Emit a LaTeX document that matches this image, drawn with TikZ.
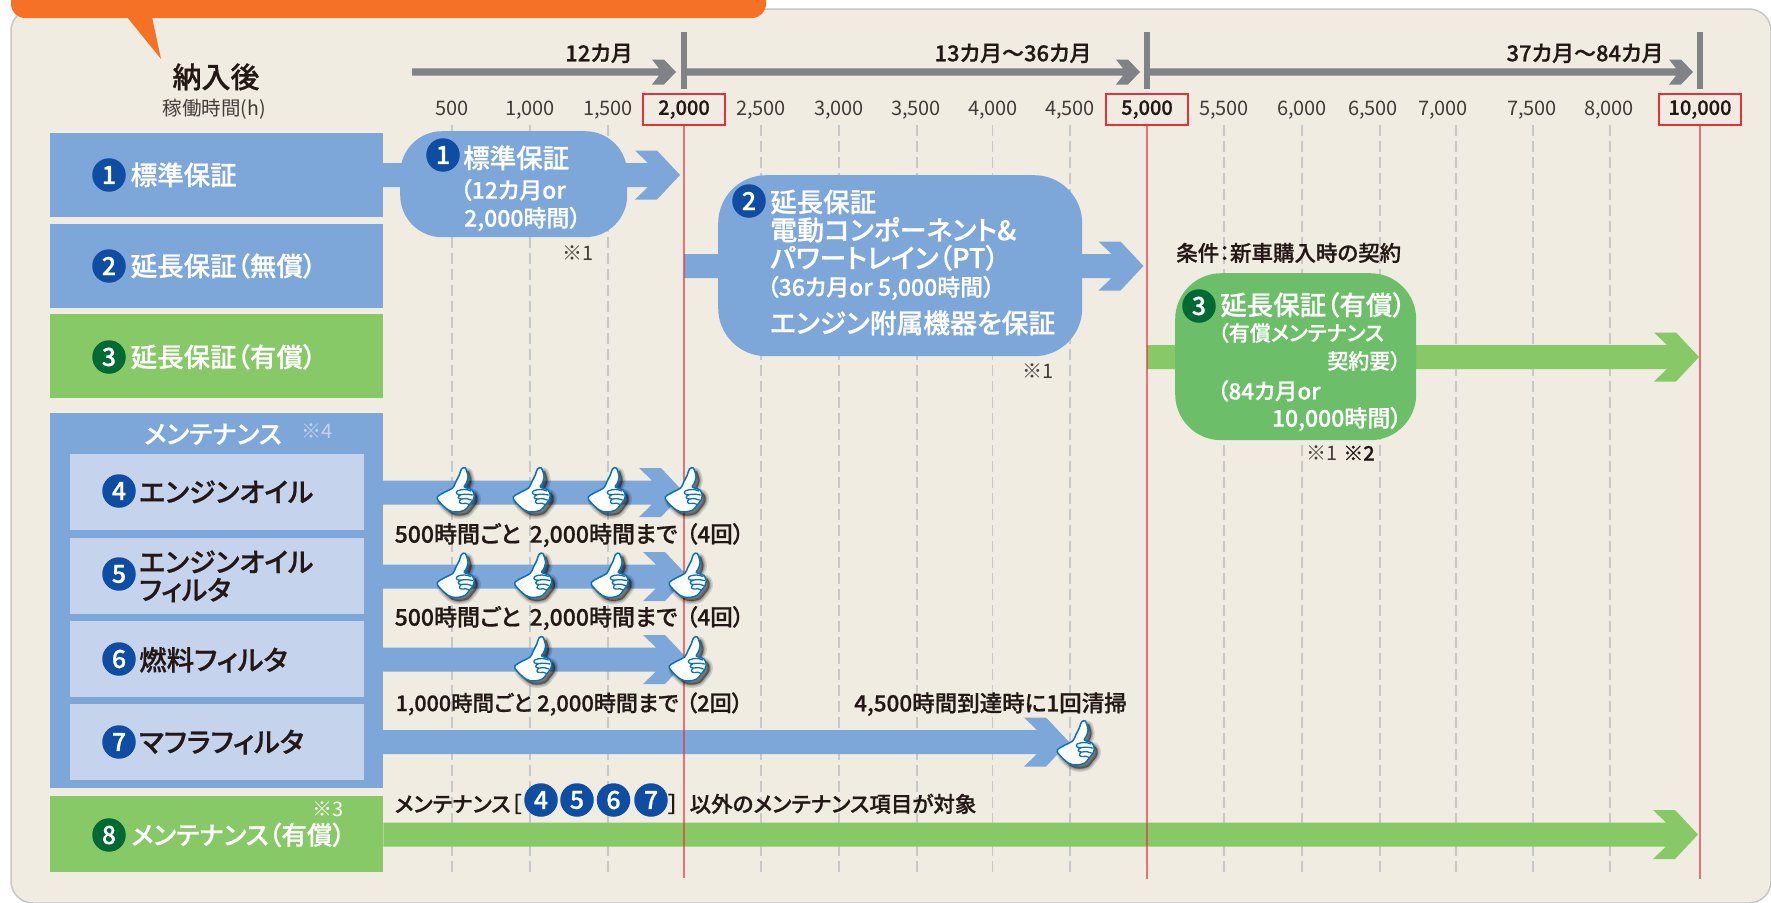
\documentclass[tikz,border=0pt]{standalone}
\usepackage{fontspec}
\usetikzlibrary{calc}
\newfontfamily\jp{Noto Sans CJK JP Medium}[RawFeature={+palt;embolden=0.7}]
\newfontfamily\jr{Noto Sans CJK JP}[RawFeature={+palt}]
\newcommand\fs[1]{\fontsize{#1}{#1}\selectfont}
\definecolor{panelbg}{HTML}{F0ECE2}
\definecolor{panelln}{HTML}{C4C6C8}
\definecolor{blu}{HTML}{7DA6D9}
\definecolor{grn}{HTML}{87C867}
\definecolor{grnb}{HTML}{6CBF68}
\definecolor{lbl}{HTML}{C5D3ED}
\definecolor{dblu}{HTML}{0F4DA2}
\definecolor{dgrn}{HTML}{006934}
\definecolor{orng}{HTML}{F57125}
\definecolor{gry}{HTML}{808285}
\definecolor{dash}{HTML}{C8C8C8}
\definecolor{redl}{HTML}{E8303A}
\definecolor{ink}{HTML}{231815}
\definecolor{thb}{HTML}{0B72B9}
\tikzset{
  tx/.style={inner sep=0pt,anchor=west,text=ink,text height={#1*0.85pt},text depth={#1*0.1pt},font=\jp\fs{#1}},
  tc/.style={tx={#1},anchor=center},
  te/.style={tx={#1},anchor=east},
  wt/.style={tx={#1},text=white},
  we/.style={te={#1},text=white},
  tick/.style={tc={#1},font=\jr\fs{#1},text=ink!85},
  bx/.style={inner sep=0pt,anchor=north west,draw=none},
  numc/.style={circle,inner sep=0pt,minimum size=33.5pt,text=white,font=\jp\fs{25}},
  redbox/.style={draw=redl,line width=1.1pt,fill=none,inner sep=0pt,minimum width=82pt,minimum height=31pt},
  dl/.style={draw=dash,line width=1.9pt,dash pattern=on 11pt off 5pt},
  rl/.style={draw=redl,line width=1.3pt,opacity=.65},
  thumbshape/.pic={
    \foreach \lw/\op in {7/.12,4/.16,1.5/.22}{
      \draw[black,line width=\lw pt,opacity=\op,fill=black,line join=round,shift={(3,3.5)}]
        plot[smooth cycle,tension=.55] coordinates {(5,-21) (8.5,-22) (11,-13) (9,-6) (7.5,-3) (14.5,0) (16.5,5) (15.5,10) (12,15) (8,20) (0,22) (-7,20) (-15,12) (-17,7) (-10,2) (-3,-2) (0,-8.5) (3,-15)};
    }
    \draw[thb,line width=1.5pt,fill=white,line join=round]
      plot[smooth cycle,tension=.55] coordinates {(5,-21) (8.5,-22) (11,-13) (9,-6) (7.5,-3) (14.5,0) (16.5,5) (15.5,10) (12,15) (8,20) (0,22) (-7,20) (-15,12) (-17,7) (-10,2) (-3,-2) (0,-8.5) (3,-15)};
    \draw[thb,line width=1.3pt,line cap=round]
      (1,1) .. controls (5,-1) and (10,-1) .. (13.5,1)
      (1,1) .. controls (-1,4) and (2,5) .. (5,4.5) .. controls (9,4) and (12,4) .. (15,5)
      (5,4.5) .. controls (1,6) and (1,9) .. (5,9) .. controls (9,8.5) and (12,8.5) .. (14,10)
      (5,9) .. controls (2,11) and (3,14) .. (6,13.5) .. controls (8,13) and (10,13) .. (12,14.5);
  },
}
\newcommand\fatarrow[3]{%
  \fill[#3] let \p1=#1,\p2=(#2) in
    (\x1,\y2+12pt)--(\x2-32pt,\y2+12pt)--(\x2-45pt,\y2+24.5pt)--(\x2-23pt,\y2+24.5pt)--(\x2,\y2)
    --(\x2-23pt,\y2-24.5pt)--(\x2-45pt,\y2-24.5pt)--(\x2-32pt,\y2-12pt)--(\x1,\y2-12pt)--cycle;}
\newcommand\axisarrow[2]{%
  \fill[gry] let \p1=#1,\p2=(#2) in
    (\x1,\y2+3.6pt)--(\x2-17pt,\y2+3.6pt)--(\x2-24pt,\y2+12.5pt)--(\x2-12pt,\y2+12.5pt)--(\x2,\y2)
    --(\x2-12pt,\y2-12.5pt)--(\x2-24pt,\y2-12.5pt)--(\x2-17pt,\y2-3.6pt)--(\x1,\y2-3.6pt)--cycle;}
\begin{document}
\begin{tikzpicture}[x=1pt,y=-1pt]
\useasboundingbox (0,0) rectangle (1771,902);
\begin{scope}
\clip (0,0) rectangle (1771,902);
\fill[white] (0,0) rectangle (1771,902);
\draw[panelln,line width=1.5pt,fill=panelbg,rounded corners=22pt] (11,9) rectangle (1771,903);
\fill[orng] (127,17)--(161,59)--(152,17)--cycle;
\fill[orng,rounded corners=14pt] (11,-40) rectangle (766,18);
\end{scope}
\coordinate (ax0) at (412,72);
\coordinate (ax1) at (676,72);
\coordinate (ax2) at (1140,72);
\coordinate (ax3) at (1693,72);
\coordinate (m1a) at (684,32); \coordinate (m1b) at (684,89);
\coordinate (m2a) at (1147,32); \coordinate (m2b) at (1147,89);
\coordinate (m3a) at (1700,32); \coordinate (m3b) at (1700,89);
\axisarrow{(ax0)}{ax1}
\axisarrow{(m1a|-ax0)}{ax2}
\axisarrow{(m2a|-ax0)}{ax3}
\draw[gry,line width=6pt] (m1a)--(m1b);
\draw[gry,line width=6pt] (m2a)--(m2b);
\draw[gry,line width=6pt] (m3a)--(m3b);
\node[tc=22] (a1) at (599,53) {12カ月};
\node[tc=22] (a2) at (1013,53) {13カ月〜36カ月};
\node[tc=22] (a3) at (1585,53) {37カ月〜84カ月};
\node[tc=29] (nyu) at (216,77) {納入後};
\node[tick=19.5] (kado) at (214.5,108) {稼働時間(h)};
\foreach \x in {452,530,608,761,839,917,992.5,1070,1224,1301.6,1380,1455.6,1533,1610}
  \draw[dl] (\x,125)--(\x,875);
\foreach \t/\x/\n in {500/452/a,{1,000}/530/b,{1,500}/608/c,{2,500}/761/d,{3,000}/839/e,{3,500}/916/f,{4,000}/993/g,{4,500}/1070/h,{5,500}/1224/i,{6,000}/1302/j,{6,500}/1373/k,{7,000}/1443/l,{7,500}/1532/m,{8,000}/1609/n}
  \node[tick=20] (lb\n) at (\x,108) {\t};
\node[bx,fill=blu,minimum width=333pt,minimum height=84pt] (r1) at (50,133) {};
\node[bx,fill=blu,minimum width=333pt,minimum height=84pt] (r2) at (50,224) {};
\node[bx,fill=grn,minimum width=333pt,minimum height=84pt] (r3) at (50,314) {};
\node[bx,fill=blu,minimum width=333pt,minimum height=375pt] (mt) at (50,413) {};
\node[bx,fill=lbl,minimum width=294pt,minimum height=76pt] (r4) at (70,454) {};
\node[bx,fill=lbl,minimum width=294pt,minimum height=76pt] (r5) at (70,538) {};
\node[bx,fill=lbl,minimum width=294pt,minimum height=76pt] (r6) at (70,621) {};
\node[bx,fill=lbl,minimum width=294pt,minimum height=76pt] (r7) at (70,704) {};
\node[bx,fill=grn,minimum width=333pt,minimum height=76pt] (r8) at (50,796) {};
\coordinate (t1) at (680,175);
\coordinate (s2) at (684,266); \coordinate (t2) at (1143.5,266);
\coordinate (s3) at (1147,357); \coordinate (t3) at (1699,357);
\coordinate (t4) at (684,492.5);
\coordinate (t5) at (688,576.5);
\coordinate (t6) at (688,659.5);
\coordinate (t7) at (1069,742);
\coordinate (t8) at (1698,834.5);
\coordinate (e1) at (383,175);
\coordinate (e4) at (383,492.5);
\coordinate (e5) at (383,576.5);
\coordinate (e6) at (383,659.5);
\coordinate (e7) at (383,742);
\fatarrow{(e1)}{t1}{blu}
\fatarrow{(s2)}{t2}{blu}
\fatarrow{(s3)}{t3}{grn}
\fatarrow{(e4)}{t4}{blu}
\fatarrow{(e5)}{t5}{blu}
\fatarrow{(e6)}{t6}{blu}
\fatarrow{(e7)}{t7}{blu}
\fatarrow{(r8.east)}{t8}{grn}
\node[bx,fill=blu,rounded corners=42pt,minimum width=227pt,minimum height=106pt] (b1) at (400,131) {};
\node[bx,fill=blu,rounded corners=48pt,minimum width=364pt,minimum height=181pt] (b2) at (718,175) {};
\node[bx,fill=grnb,rounded corners=46pt,minimum width=241pt,minimum height=167pt] (b3) at (1175,273) {};
\node[redbox] (k1) at (684,109.5) {\jp\fs{20}\textcolor{ink}{2,000}};
\node[redbox] (k2) at (1147,109.5) {\jp\fs{20}\textcolor{ink}{5,000}};
\node[redbox] (k3) at (1700,109.5) {\jp\fs{20}\textcolor{ink}{10,000}};
\coordinate (k1e) at (684,878);
\coordinate (k2e) at (1147,879);
\coordinate (k3e) at (1700,879);
\draw[rl] (k1.south)--(k1e);
\draw[rl] (k2.south)--(k2e);
\draw[rl] (k3.south)--(k3e);
\foreach \x/\y in {456/490,532/490,607/490,684/490,456/575.5,533.5/575.5,610/575.5,688/575.5,533.5/659,688/659,1076/743}
  \pic[xscale=1.1] at (\x,\y) {thumbshape};
\node[numc,fill=dblu] (n1) at (109,175) {1};
\node[wt=26.5] (l1) at (130.5,175) {標準保証};
\node[numc,fill=dblu] (n2) at (109,266) {2};
\node[wt=26.5] (l2) at (130.5,266) {延長保証（無償）};
\node[numc,fill=dgrn] (n3) at (109,357) {3};
\node[wt=26.5] (l3) at (130.5,357) {延長保証（有償）};
\node[wt=25.5] (lm) at (144,434) {メンテナンス};
\node[tick=20,text=lbl] (s4) at (317,431) {※4};
\node[numc,fill=dblu] (n4) at (119,491) {4};
\node[tx=27] (l4) at (139,492) {エンジンオイル};
\node[numc,fill=dblu] (n5) at (119,574) {5};
\node[tx=27] (l5a) at (139,562) {エンジンオイル};
\node[tx=27] (l5b) at (139,590) {フィルタ};
\node[numc,fill=dblu] (n6) at (119,659) {6};
\node[tx=27.5] (l6) at (139,660) {燃料フィルタ};
\node[numc,fill=dblu] (n7) at (119,742) {7};
\node[tx=27.5] (l7) at (139,742) {マフラフィルタ};
\node[numc,fill=dgrn] (n8) at (109,835) {8};
\node[wt=25.5] (l8) at (131,835) {メンテナンス（有償）};
\node[tick=20,text=white] (s3a) at (328,809) {※3};
\node[numc,fill=dblu] (bn1) at (443,155) {1};
\node[wt=26.5] (bt1) at (463,158) {標準保証};
\node[wt=23] (bt1a) at (460,190) {（12カ月or};
\node[wt=23] (bt1b) at (464,218) {2,000時間）};
\node[tick=20] (bs1) at (578,253) {※1};
\node[numc,fill=dblu] (bn2) at (749,201) {2};
\node[wt=26.5] (bt2) at (770,202) {延長保証};
\node[wt=27] (bt2a) at (770,230) {電動コンポーネント\&};
\node[wt=27] (bt2b) at (770,258) {パワートレイン（PT）};
\node[wt=23] (bt2c) at (767,287) {（36カ月or 5,000時間）};
\node[wt=26.8] (bt2d) at (770,323) {エンジン附属機器を保証};
\node[tick=20] (bs2) at (1038,371) {※1};
\node[tx=21.5] (cond) at (1176,253) {条件：新車購入時の契約};
\node[numc,fill=dgrn] (bn3) at (1199,306) {3};
\node[wt=26.5] (bt3) at (1220,305) {延長保証（有償）};
\node[wt=21] (bt3a) at (1218,333) {（有償メンテナンス};
\node[we=21] (bt3b) at (1401,361) {契約要）};
\node[wt=22.5] (bt3c) at (1217,391) {（84カ月or};
\node[we=23] (bt3d) at (1402,418) {10,000時間）};
\node[tick=20] (bs3a) at (1322,453) {※1};
\node[tc=20] (bs3b) at (1359,453) {※2};
\node[tx=23] (p4a) at (394.5,534) {500時間ごと};
\node[tx=23] (p4b) at (529.5,534) {2,000時間まで};
\node[tx=22.5] (p4c) at (686,534) {（4回）};
\node[tx=23] (p5a) at (394.5,617) {500時間ごと};
\node[tx=23] (p5b) at (529.5,617) {2,000時間まで};
\node[tx=22.5] (p5c) at (686,617) {（4回）};
\node[tx=21.5] (p6a) at (395.5,703) {1,000時間ごと};
\node[tx=22] (p6b) at (537,703) {2,000時間まで};
\node[tx=22] (p6c) at (686,703) {（2回）};
\node[tx=22.5] (p7) at (854,703) {4,500時間到達時に1回清掃};
\node[tx=21.5] (p8a) at (394.5,804) {メンテナンス［};
\node[numc,fill=dblu] (c4) at (541,800) {4};
\node[numc,fill=dblu] (c5) at (577,800) {5};
\node[numc,fill=dblu] (c6) at (613.5,800) {6};
\node[numc,fill=dblu] (c7) at (651,800) {7};
\node[tx=21.5] (p8b) at (668,804) {］};
\node[tx=21.5] (p8c) at (689.5,804) {以外のメンテナンス項目が対象};
\end{tikzpicture}
\end{document}
